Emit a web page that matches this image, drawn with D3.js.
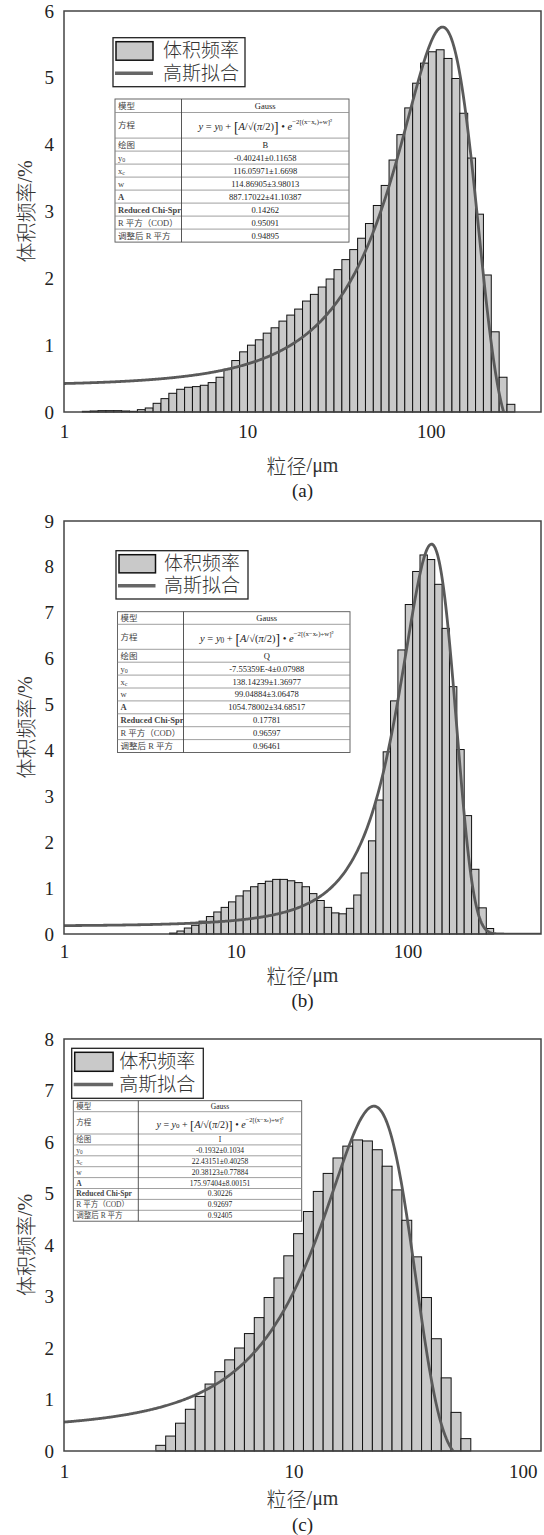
<!DOCTYPE html>
<html>
<head>
<meta charset="utf-8">
<script src="https://cdn.jsdelivr.net/npm/d3@7"></script>
<style>
  body { margin: 0; background: #fff; }
  svg { display: block; }
</style>
</head>
<body>
<div id="chart"></div>
<script>
// size class edges (um), shared by the three samples
const binEdges = [1.259, 1.390, 1.534, 1.693, 1.869, 2.063, 2.278, 2.514, 2.775, 3.063,
  3.381, 3.732, 4.120, 4.548, 5.020, 5.541, 6.116, 6.752, 7.453, 8.226,
  9.080, 10.02, 11.06, 12.21, 13.48, 14.88, 16.42, 18.13, 20.01, 22.09,
  24.38, 26.91, 29.71, 32.79, 36.20, 39.96, 44.11, 48.69, 53.74, 59.32,
  65.46, 72.26, 79.77, 88.05, 97.19, 107.3, 118.4, 130.7, 144.3, 159.3,
  175.8, 194.1, 214.2, 236.5, 261.0, 288.1, 318.0];

// volume frequency (%), (a) from class 0, (b) from class 12, (c) from class 7
const volA = [0.01, 0.015, 0.02, 0.02, 0.02, 0.015, 0.01, 0.035, 0.06, 0.13,
  0.20, 0.28, 0.34, 0.37, 0.38, 0.40, 0.44, 0.52, 0.64, 0.77,
  0.90, 1.00, 1.08, 1.18, 1.26, 1.36, 1.45, 1.54, 1.66, 1.76,
  1.87, 1.99, 2.13, 2.28, 2.43, 2.60, 2.82, 3.09, 3.39, 3.77,
  4.15, 4.55, 4.92, 5.22, 5.39, 5.42, 5.29, 4.99, 4.47, 3.80,
  2.96, 2.05, 1.20, 0.52, 0.115];
const volB = [0.02, 0.065, 0.13, 0.19, 0.28, 0.38, 0.48, 0.58, 0.70, 0.83,
  0.94, 1.03, 1.10, 1.15, 1.19, 1.19, 1.16, 1.12, 1.03, 0.88,
  0.73, 0.58, 0.46, 0.44, 0.56, 0.85, 1.33, 2.03, 2.92, 3.97,
  5.08, 6.19, 7.18, 7.90, 8.26, 8.16, 7.62, 6.66, 5.39, 4.02,
  2.58, 1.41, 0.57, 0.12];
const volC = [0.11, 0.29, 0.54, 0.81, 1.06, 1.30, 1.54, 1.77, 2.00, 2.28,
  2.59, 2.98, 3.36, 3.79, 4.22, 4.65, 5.04, 5.39, 5.69, 5.92,
  6.04, 6.02, 5.85, 5.53, 5.07, 4.48, 3.77, 2.98, 2.18, 1.42,
  0.75, 0.24];

// Gauss fit parameters from the tables
const fitA = { y0: -0.40241, xc: 116.05971, w: 114.86905, A: 887.17022 };
const fitB = { y0: -7.55359e-4, xc: 138.14239, w: 99.04884, A: 1054.78002 };
const fitC = { y0: -0.1932, xc: 22.43151, w: 20.38123, A: 175.97404 };

const xTicks = [1, 10, 100];
const yTicksA = [0, 1, 2, 3, 4, 5, 6];
const yTicksB = [0, 1, 2, 3, 4, 5, 6, 7, 8, 9];
const yTicksC = [0, 1, 2, 3, 4, 5, 6, 7, 8];

const legendNames = ['体积频率', '高斯拟合'];
const tableLabels = [['模型'], ['方程'], ['绘图'], ['y', '0'], ['x', 'c'], ['w'], ['A'],
  ['Reduced Chi-Spr'], ['R 平方（COD）'], ['调整后 R 平方']];
const tableA = ['Gauss', null, 'B', '-0.40241±0.11658', '116.05971±1.6698', '114.86905±3.98013',
  '887.17022±41.10387', '0.14262', '0.95091', '0.94895'];
const tableB = ['Gauss', null, 'Q', '-7.55359E-4±0.07988', '138.14239±1.36977', '99.04884±3.06478',
  '1054.78002±34.68517', '0.17781', '0.96597', '0.96461'];
const tableC = ['Gauss', null, 'I', '-0.1932±0.1034', '22.43151±0.40258', '20.38123±0.77884',
  '175.97404±8.00151', '0.30226', '0.92697', '0.92405'];

const serif = "'Liberation Serif', 'Noto Sans CJK SC', serif";
const cjk = "'Noto Sans CJK SC', sans-serif";
// latin font first keeps the line box compact, CJK glyphs fall back to Noto
const legendFont = "'Liberation Sans', 'Noto Sans CJK SC', sans-serif";

const width = 544, height = 1535;
const svg = d3.select('#chart').append('svg')
    .attr('width', width)
    .attr('height', height)
    .style('background', '#fff');

const panels = [
  { id: 'a', values: volA, start: 0, fit: fitA, table: tableA, xMax: 400, yTicks: yTicksA,
    left: 64, right: 541, top: 11, bottom: 412, tickGap: 13, titleY: 465, capY: 490,
    legend: { x: 113, y: 37.7, w: 132, h: 49, sw: 37, textX: 163 },
    tab: { x: 115, y: 99, w: 234, col: 66.5, head: 13.5, eq: 25.6, row: 13, fs: 8.5, eqfs: 10.5 } },
  { id: 'b', values: volB, start: 12, fit: fitB, table: tableB, xMax: 600, yTicks: yTicksB,
    left: 64, right: 541, top: 521, bottom: 934, tickGap: 11, titleY: 975, capY: 1000,
    legend: { x: 116, y: 550.7, w: 132, h: 48.3, sw: 36.5, textX: 164 },
    tab: { x: 117.5, y: 611.7, w: 232.5, col: 66, head: 12.6, eq: 25, row: 12.9, fs: 8.5, eqfs: 10.5 } },
  { id: 'c', values: volC, start: 7, fit: fitC, table: tableC, xMax: 120, yTicks: yTicksC,
    left: 64, right: 541, top: 1039, bottom: 1451, tickGap: 13.5, titleY: 1498, capY: 1524,
    legend: { x: 71.7, y: 1048.3, w: 131.6, h: 50, sw: 38.4, textX: 119.3 },
    tab: { x: 73.3, y: 1100.7, w: 228.4, col: 65, head: 11, eq: 22.3, row: 10.9, fs: 7.5, eqfs: 10 } }
];

panels.forEach(p => drawPanel(p));

function drawPanel(p) {
  const g = svg.append('g').attr('id', 'panel-' + p.id);
  const x = d3.scaleLog().domain([1, p.xMax]).range([p.left, p.right]);
  const y = d3.scaleLinear().domain([0, d3.max(p.yTicks)]).range([p.bottom, p.top]);

  // histogram bars
  const bars = p.values.map((v, i) => ({ x0: binEdges[p.start + i], x1: binEdges[p.start + i + 1], v: v }));
  g.selectAll('rect.bar')
    .data(bars)
    .join('rect')
      .attr('class', 'bar')
      .attr('x', d => x(d.x0))
      .attr('width', d => x(d.x1) - x(d.x0))
      .attr('y', d => y(d.v))
      .attr('height', d => y(0) - y(d.v))
      .attr('fill', '#c9c9c9')
      .attr('stroke', '#111')
      .attr('stroke-width', 1);

  // fitted Gauss curve, y = y0 + A/(w*sqrt(pi/2)) * exp(-2((x-xc)/w)^2)
  const f = p.fit;
  const gauss = s => f.y0 + f.A / (f.w * Math.sqrt(Math.PI / 2)) * Math.exp(-2 * Math.pow((s - f.xc) / f.w, 2));
  const logMax = Math.log10(p.xMax);
  const pts = d3.range(0, 601).map(i => Math.pow(10, logMax * i / 600));
  g.append('clipPath').attr('id', 'clip-' + p.id)
    .append('rect')
      .attr('x', p.left).attr('y', p.top)
      .attr('width', p.right - p.left).attr('height', p.bottom - p.top);
  g.append('path')
    .datum(pts)
    .attr('clip-path', `url(#clip-${p.id})`)
    .attr('fill', 'none')
    .attr('stroke', '#5a5a5a')
    .attr('stroke-width', 2.8)
    .attr('d', d3.line().x(d => x(d)).y(d => y(gauss(d))));

  // axes
  const xAxis = d3.axisBottom(x).tickValues(xTicks).tickFormat(d3.format('d')).tickSize(0).tickPadding(p.tickGap);
  const yAxis = d3.axisLeft(y).tickValues(p.yTicks).tickFormat(d3.format('d')).tickSize(0).tickPadding(10);
  [g.append('g').attr('transform', `translate(0,${p.bottom})`).call(xAxis),
   g.append('g').attr('transform', `translate(${p.left},0)`).call(yAxis)].forEach(ax => {
    ax.select('.domain').remove();
    ax.attr('font-family', serif).attr('font-size', 19);
    ax.selectAll('text').attr('fill', '#222');
  });

  // frame
  g.append('rect')
    .attr('x', p.left).attr('y', p.top)
    .attr('width', p.right - p.left).attr('height', p.bottom - p.top)
    .attr('fill', 'none')
    .attr('stroke', '#444')
    .attr('stroke-width', 1.5);

  // axis titles and caption
  const midY = (p.top + p.bottom) / 2;
  const yTitle = g.append('text')
    .attr('transform', `translate(25,${midY}) rotate(-90)`)
    .attr('text-anchor', 'middle')
    .attr('dominant-baseline', 'central')
    .attr('font-size', 20)
    .attr('fill', '#333');
  yTitle.append('tspan').attr('font-family', cjk).attr('font-weight', 300).text('体积频率');
  yTitle.append('tspan').attr('font-family', serif).text('/%');

  const xTitle = g.append('text')
    .attr('x', (p.left + p.right) / 2)
    .attr('y', p.titleY)
    .attr('text-anchor', 'middle')
    .attr('dominant-baseline', 'central')
    .attr('font-size', 20)
    .attr('fill', '#333');
  xTitle.append('tspan').attr('font-family', cjk).attr('font-weight', 300).text('粒径');
  xTitle.append('tspan').attr('font-family', serif).text('/μm');

  g.append('text')
    .attr('x', (p.left + p.right) / 2)
    .attr('y', p.capY)
    .attr('text-anchor', 'middle')
    .attr('dominant-baseline', 'central')
    .attr('font-family', serif)
    .attr('font-size', 19)
    .attr('fill', '#222')
    .text(`(${p.id})`);

  drawLegend(g, p.legend);
  drawTable(g, p.tab, p.table);
}

function drawLegend(g, L) {
  const lg = g.append('g');
  lg.append('rect')
    .attr('x', L.x).attr('y', L.y).attr('width', L.w).attr('height', L.h)
    .attr('fill', '#fff').attr('stroke', '#222').attr('stroke-width', 1.3);
  const rowH = L.h / 2;
  lg.append('rect')
    .attr('x', L.x + 3).attr('y', L.y + 4).attr('width', L.sw).attr('height', rowH - 6)
    .attr('fill', '#c9c9c9').attr('stroke', '#111').attr('stroke-width', 1.5);
  lg.append('line')
    .attr('x1', L.x + 2).attr('x2', L.x + 3 + L.sw)
    .attr('y1', L.y + rowH * 1.45).attr('y2', L.y + rowH * 1.45)
    .attr('stroke', '#666').attr('stroke-width', 3.5);
  lg.selectAll('text.leg')
    .data(legendNames)
    .join('text')
      .attr('class', 'leg')
      .attr('x', L.textX)
      .attr('y', (d, i) => L.y + rowH * (i === 0 ? 0.53 : 1.45))
      .attr('dominant-baseline', 'central')
      .attr('font-family', legendFont)
      .attr('font-size', 19)
      .attr('font-weight', 300)
      .attr('fill', '#333')
      .text(d => d);
}

function drawTable(g, T, values) {
  const tg = g.append('g');
  const heights = tableLabels.map((d, i) => i === 0 ? T.head : (i === 1 ? T.eq : T.row));
  const tops = [];
  heights.reduce((acc, h) => { tops.push(acc); return acc + h; }, T.y);
  const total = d3.sum(heights);

  tg.append('rect')
    .attr('x', T.x).attr('y', T.y).attr('width', T.w).attr('height', total)
    .attr('fill', '#fff').attr('stroke', '#555').attr('stroke-width', 0.9);
  tops.slice(1).forEach(t => {
    tg.append('line')
      .attr('x1', T.x).attr('x2', T.x + T.w).attr('y1', t).attr('y2', t)
      .attr('stroke', '#888').attr('stroke-width', 0.8);
  });
  tg.append('line')
    .attr('x1', T.x + T.col).attr('x2', T.x + T.col)
    .attr('y1', T.y).attr('y2', T.y + total)
    .attr('stroke', '#444').attr('stroke-width', 0.9);

  const bold = ['A', 'Reduced Chi-Spr'];
  tableLabels.forEach((lab, i) => {
    const cy = tops[i] + heights[i] / 2;
    const t = tg.append('text')
      .attr('x', T.x + 3).attr('y', cy)
      .attr('dominant-baseline', 'central')
      .attr('font-family', serif)
      .attr('font-size', T.fs)
      .attr('font-weight', bold.includes(lab[0]) ? 'bold' : 'normal')
      .attr('fill', '#444')
      .text(lab[0]);
    if (lab[1]) {
      t.append('tspan').attr('font-size', T.fs * 0.7).attr('dy', 2).text(lab[1]);
    }
    const cx = T.x + T.col + (T.w - T.col) / 2;
    if (values[i] === null) {
      const eq = tg.append('text')
        .attr('x', cx).attr('y', cy + 1)
        .attr('text-anchor', 'middle')
        .attr('dominant-baseline', 'central')
        .attr('font-family', serif)
        .attr('font-size', T.eqfs)
        .attr('fill', '#222');
      eq.append('tspan').attr('font-style', 'italic').text('y');
      eq.append('tspan').text(' = ');
      eq.append('tspan').attr('font-style', 'italic').text('y');
      eq.append('tspan').attr('font-size', T.eqfs * 0.7).attr('dy', 2).text('0');
      eq.append('tspan').attr('dy', -2).text(' + ');
      eq.append('tspan').attr('font-size', T.eqfs * 1.3).attr('dy', 1).text('[');
      eq.append('tspan').attr('font-style', 'italic').attr('dy', -1).text('A');
      eq.append('tspan').text('/√(');
      eq.append('tspan').attr('font-style', 'italic').text('π');
      eq.append('tspan').text('/2)');
      eq.append('tspan').attr('font-size', T.eqfs * 1.3).attr('dy', 1).text(']');
      eq.append('tspan').attr('dy', -1).text(' • ');
      eq.append('tspan').attr('font-style', 'italic').text('e');
      eq.append('tspan').attr('font-size', T.eqfs * 0.65).attr('dy', -5).text('−2[(x−x');
      eq.append('tspan').attr('font-size', T.eqfs * 0.45).attr('dy', 1.5).text('c');
      eq.append('tspan').attr('font-size', T.eqfs * 0.65).attr('dy', -1.5).text(')÷w]²');
    } else {
      tg.append('text')
        .attr('x', cx).attr('y', cy)
        .attr('text-anchor', 'middle')
        .attr('dominant-baseline', 'central')
        .attr('font-family', serif)
        .attr('font-size', T.fs)
        .attr('fill', '#222')
        .text(values[i]);
    }
  });
}
</script>
</body>
</html>
